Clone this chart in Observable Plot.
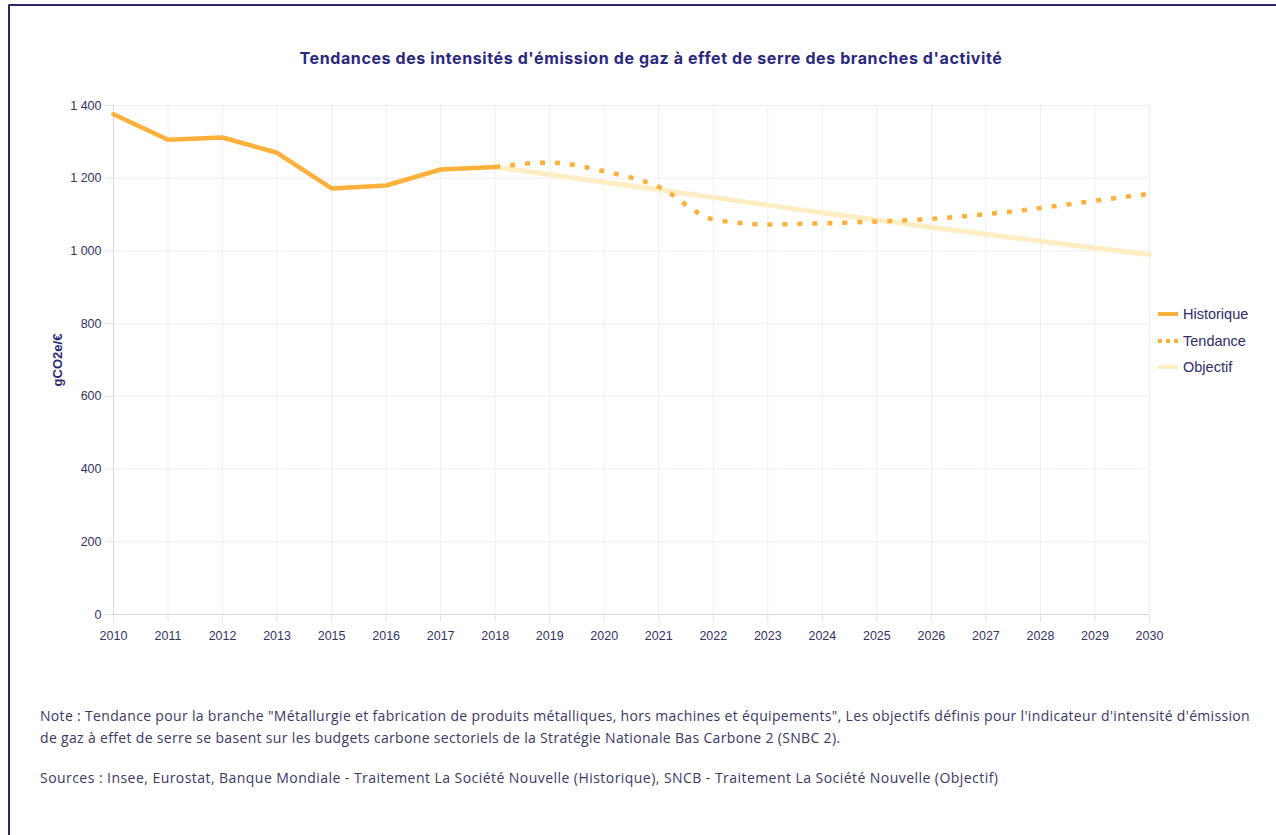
<!DOCTYPE html>
<html>
<head>
<meta charset="utf-8">
<script src="https://cdn.jsdelivr.net/npm/d3@7"></script>
<script src="https://cdn.jsdelivr.net/npm/@observablehq/plot@0.6"></script>
<style>
  html, body { margin: 0; padding: 0; background: #fff; width: 1276px; height: 835px; overflow: hidden; }
  #frame { position: absolute; left: 8px; top: 4px; width: 1400px; height: 900px; border-top: 2px solid #2a2670; border-left: 2px solid #2a2670; border-top-left-radius: 2px; }
  #title { position: absolute; left: 26px; width: 1250px; top: 48px; text-align: center; font-family: Inter, sans-serif; font-weight: 700; font-size: 16px; letter-spacing: 0.6px; color: #2a2880; }
  #chart { position: absolute; left: 0; top: 90px; }
  #ylabel { position: absolute; left: 57px; top: 360px; transform: translate(-50%, -50%) rotate(-90deg); font-family: "Liberation Sans", Arial, sans-serif; font-weight: 700; font-size: 13px; color: #2a2870; white-space: nowrap; }
  #legend { position: absolute; left: 1158px; top: 301px; font-family: "Liberation Sans", Arial, sans-serif; font-size: 14.5px; color: #2f2d6a; }
  .item { display: flex; align-items: center; height: 26.5px; }
  .item svg { margin-right: 5px; }
  #note { position: absolute; left: 40px; top: 705px; width: 1236px; font-family: "Open Sans", sans-serif; font-size: 14px; letter-spacing: 0.33px; line-height: 22px; color: #3a3868; white-space: nowrap; }
  #sources { position: absolute; left: 40px; top: 768px; font-family: "Open Sans", sans-serif; font-size: 14px; letter-spacing: 0.45px; color: #3a3868; white-space: nowrap; }
</style>
</head>
<body>
<div id="frame"></div>
<div id="title">Tendances des intensités d'émission de gaz à effet de serre des branches d'activité</div>
<div id="chart"></div>
<div id="ylabel">gCO2e/€</div>
<div id="legend"></div>
<div id="note">Note : Tendance pour la branche "Métallurgie et fabrication de produits métalliques, hors machines et équipements", Les objectifs définis pour l'indicateur d'intensité d'émission<br>de gaz à effet de serre se basent sur les budgets carbone sectoriels de la Stratégie Nationale Bas Carbone 2 (SNBC 2).</div>
<div id="sources">Sources : Insee, Eurostat, Banque Mondiale - Traitement La Société Nouvelle (Historique), SNCB - Traitement La Société Nouvelle (Objectif)</div>
<script>
// Categories (note: 2014 is absent on the axis)
const years = ["2010","2011","2012","2013","2015","2016","2017","2018","2019","2020",
               "2021","2022","2023","2024","2025","2026","2027","2028","2029","2030"];
const yTicks = [0, 200, 400, 600, 800, 1000, 1200, 1400];

const histYears  = ["2010","2011","2012","2013","2015","2016","2017","2018"];
const histValues = [1376, 1306, 1312, 1270, 1172, 1180, 1224, 1231];

const trendYears  = ["2018","2019","2020","2021","2022","2023","2024","2025","2026","2027","2028","2029","2030"];
const trendValues = [1231, 1243, 1219, 1176, 1087, 1073, 1076, 1081, 1088, 1101, 1118, 1138, 1157];

const objYears  = ["2018","2019","2020","2021","2022","2023","2024","2025","2026","2027","2028","2029","2030"];
const objValues = [1231, 1210, 1189, 1168, 1147, 1126, 1105, 1085, 1065, 1046, 1027, 1008, 990];

const seriesNames = ["Historique", "Tendance", "Objectif"];
const colors = { Historique: "#ffb03b", Tendance: "#ffb03b", Objectif: "#ffedc4" };

const hist  = histYears.map((y, i) => ({ year: y, value: histValues[i] }));
const trend = trendYears.map((y, i) => ({ year: y, value: trendValues[i] }));
const obj   = objYears.map((y, i) => ({ year: y, value: objValues[i] }));

const fmt = d => d3.format(",")(d).replace(/,/g, " ");

const chart = Plot.plot({
  width: 1276,
  height: 560,
  marginLeft: 113,
  marginRight: 127,
  marginTop: 15,
  marginBottom: 36,
  style: { fontFamily: "'Liberation Sans', Arial, sans-serif", fontSize: "12px", background: "transparent", overflow: "visible" },
  x: { type: "point", domain: years, padding: 0, insetLeft: 0, insetRight: 0, round: false },
  y: { domain: [0, 1400], insetTop: 0, insetBottom: 0 },
  marks: [
    Plot.ruleX(years, { stroke: "#eeecfb", strokeWidth: 1 }),
    Plot.ruleY(yTicks, { stroke: "#eeecfb", strokeWidth: 1 }),
    Plot.ruleY([0], { stroke: "#d9d6f3", strokeWidth: 1 }),
    Plot.ruleX([years[0]], { stroke: "#d9d6f3", strokeWidth: 1 }),
    Plot.axisX({ tickSize: 8, tickPadding: 9, stroke: "#e2dff7", fill: "#353366", fontSize: 12.5, label: null }),
    Plot.axisY({ ticks: yTicks, tickSize: 8, tickPadding: 4, tickFormat: fmt, stroke: "#e2dff7", fill: "#353366", fontSize: 12.5, label: null }),
    Plot.line(obj, { x: "year", y: "value", stroke: colors.Objectif, strokeWidth: 5 }),
    Plot.line(trend, { x: "year", y: "value", stroke: colors.Tendance, strokeWidth: 4.5, strokeDasharray: "5 10", curve: "monotone-x", strokeLinecap: "butt" }),
    Plot.line(hist, { x: "year", y: "value", stroke: colors.Historique, strokeWidth: 4.5, strokeLinejoin: "round" })
  ]
});
document.getElementById("chart").appendChild(chart);

// Legend
const dashes = { Historique: null, Tendance: "4 4", Objectif: null };
const legend = document.getElementById("legend");
seriesNames.forEach(name => {
  const item = document.createElement("div");
  item.className = "item";
  const dash = dashes[name] ? ` stroke-dasharray="${dashes[name]}"` : "";
  item.innerHTML = `<svg width="20" height="10"><line x1="0" y1="5" x2="20" y2="5" stroke="${colors[name]}" stroke-width="4"${dash}/></svg><span>${name}</span>`;
  legend.appendChild(item);
});
</script>
</body>
</html>
